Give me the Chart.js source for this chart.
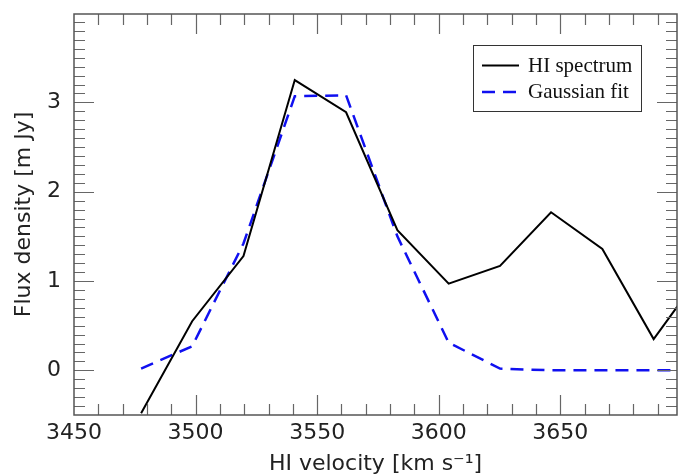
<!DOCTYPE html>
<html>
<head>
<meta charset="utf-8">
<script src="https://cdn.jsdelivr.net/npm/chart.js@4.4.1/dist/chart.umd.min.js"></script>
<style>
    html, body { margin: 0; padding: 0; background: #fff; }
    #wrap { width: 680px; height: 475px; position: relative; }
</style>
</head>
<body>
<div id="wrap"><canvas id="hiChart"></canvas></div>
<script>
// channel velocities (km/s) and flux values (mJy)
const velocity = [3477.6, 3498.6, 3519.7, 3540.8, 3561.9, 3583.0, 3604.1, 3625.2, 3646.2, 3667.3, 3688.4, 3709.5];
const hiSpectrum = [-0.48, 0.55, 1.28, 3.25, 2.89, 1.57, 0.97, 1.17, 1.77, 1.36, 0.35, 1.14];
const gaussianFit = [0.02, 0.27, 1.42, 3.07, 3.08, 1.50, 0.31, 0.02, 0.0, 0.0, 0.0, 0.0];
const xTickLabels = [3450, 3500, 3550, 3600, 3650];
const yTickLabels = [0, 1, 2, 3];

const toPoints = (ys) => velocity.map((v, i) => ({ x: v, y: ys[i] }));

const sansFont = { family: "'DejaVu Sans', sans-serif", size: 22 };

// inward ticks on all four sides plus the frame
const frameTicks = {
    id: 'frameTicks',
    afterDatasetsDraw(chart) {
        const { ctx, chartArea: a, scales: { x, y } } = chart;
        ctx.save();
        ctx.strokeStyle = '#666';
        ctx.lineWidth = 1.2;
        ctx.beginPath();
        for (let v = 3460; v < x.max; v += 10) {
            const px = Math.round(x.getPixelForValue(v)) + 0.5;
            const len = v % 50 === 0 ? 20 : 11;
            ctx.moveTo(px, a.bottom); ctx.lineTo(px, a.bottom - len);
            ctx.moveTo(px, a.top); ctx.lineTo(px, a.top + len);
        }
        for (let k = -4; k < 40; k++) {
            const py = Math.round(y.getPixelForValue(k / 10)) + 0.5;
            const len = k % 10 === 0 ? 20 : 11;
            ctx.moveTo(a.left, py); ctx.lineTo(a.left + len, py);
            ctx.moveTo(a.right, py); ctx.lineTo(a.right - len, py);
        }
        ctx.stroke();
        ctx.strokeStyle = '#555';
        ctx.lineWidth = 1.5;
        ctx.strokeRect(a.left, a.top, a.right - a.left, a.bottom - a.top);
        ctx.restore();
    }
};

// legend box in the upper right corner
const boxLegend = {
    id: 'boxLegend',
    afterDraw(chart) {
        const { ctx } = chart;
        ctx.save();
        ctx.fillStyle = '#fff';
        ctx.fillRect(473.5, 45.5, 168, 66);
        ctx.strokeStyle = '#333';
        ctx.lineWidth = 1;
        ctx.strokeRect(473.5, 45.5, 168, 66);
        chart.data.datasets.forEach((ds, i) => {
            const yy = 65.5 + i * 26.5;
            ctx.strokeStyle = ds.borderColor;
            ctx.lineWidth = ds.borderWidth;
            ctx.setLineDash(ds.borderDash || []);
            ctx.beginPath();
            ctx.moveTo(482, yy);
            ctx.lineTo(519, yy);
            ctx.stroke();
            ctx.setLineDash([]);
            ctx.fillStyle = '#111';
            ctx.font = "21px 'Liberation Serif', 'Times New Roman', serif";
            ctx.textBaseline = 'middle';
            ctx.fillText(ds.label, 528, yy + 0.8);
        });
        ctx.restore();
    }
};

new Chart(document.getElementById('hiChart'), {
    type: 'line',
    data: {
        datasets: [{
            label: 'HI spectrum',
            data: toPoints(hiSpectrum),
            borderColor: '#000',
            borderWidth: 2,
            pointRadius: 0,
            tension: 0,
        }, {
            label: 'Gaussian fit',
            data: toPoints(gaussianFit),
            borderColor: '#1010f0',
            borderWidth: 2.5,
            borderDash: [13, 8],
            pointRadius: 0,
            tension: 0,
        }]
    },
    options: {
        responsive: true,
        maintainAspectRatio: false,
        animation: false,
        devicePixelRatio: 1,
        layout: { padding: { top: 14, right: 3, left: 0, bottom: 0 } },
        plugins: { legend: { display: false }, tooltip: { enabled: false } },
        scales: {
            x: {
                type: 'linear',
                min: 3450,
                max: 3698,
                afterBuildTicks: (s) => { s.ticks = xTickLabels.map(v => ({ value: v })); },
                afterFit: (s) => { s.height = 60; s.paddingLeft = 0; s.paddingRight = 0; },
                grid: { display: false, drawTicks: false, tickLength: 0 },
                border: { display: false },
                ticks: {
                    autoSkip: false,
                    maxRotation: 0,
                    padding: 5,
                    color: '#222',
                    font: sansFont,
                    callback: (v) => String(v)
                },
                title: {
                    display: true,
                    text: 'HI velocity [km s\u207B\u00B9]',
                    color: '#222',
                    font: { ...sansFont, lineHeight: 1.0 },
                    padding: { top: 0, bottom: 0 }
                }
            },
            y: {
                min: -0.5,
                max: 3.99,
                afterBuildTicks: (s) => { s.ticks = yTickLabels.map(v => ({ value: v })); },
                afterFit: (s) => { s.width = 74; s.paddingTop = 0; s.paddingBottom = 0; },
                grid: { display: false, drawTicks: false, tickLength: 0 },
                border: { display: false },
                ticks: {
                    autoSkip: false,
                    padding: 13,
                    color: '#222',
                    font: sansFont,
                    callback: (v) => String(v)
                },
                title: {
                    display: true,
                    text: 'Flux density [m Jy]',
                    color: '#222',
                    font: { ...sansFont, lineHeight: 1.0 },
                    padding: { top: 13, bottom: 0 }
                }
            }
        }
    },
    plugins: [frameTicks, boxLegend]
});
</script>
</body>
</html>
